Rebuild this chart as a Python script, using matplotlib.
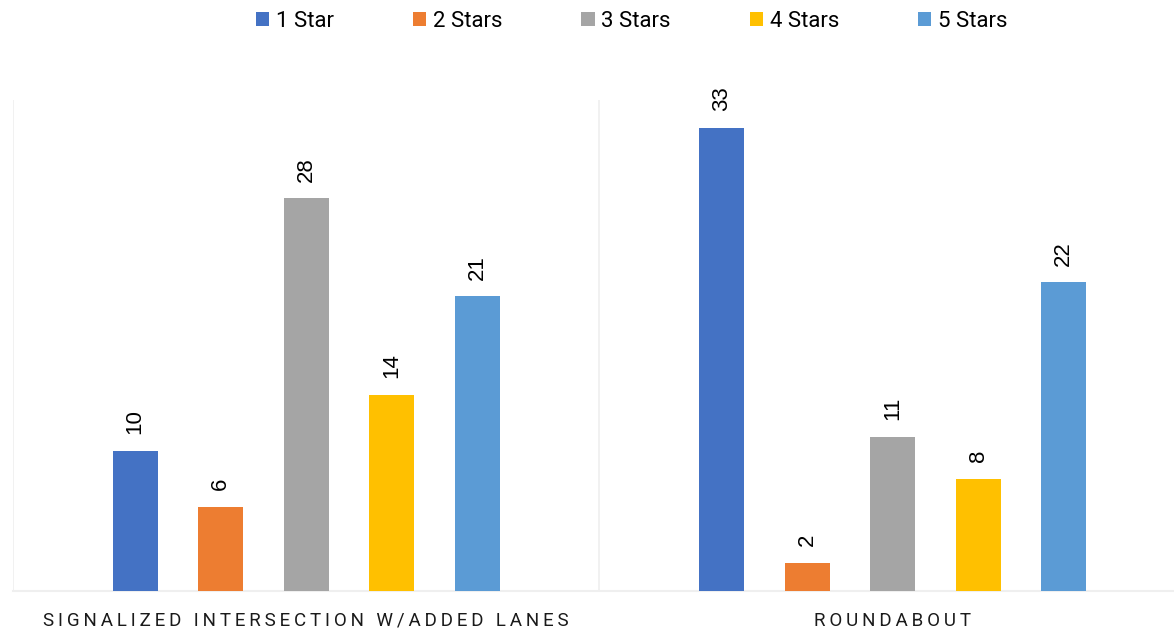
import numpy as np
import matplotlib.pyplot as plt

categories = ["SIGNALIZED INTERSECTION W/ADDED LANES", "ROUNDABOUT"]
series = ["1 Star", "2 Stars", "3 Stars", "4 Stars", "5 Stars"]
values = {
    "1 Star": [10, 33],
    "2 Stars": [6, 2],
    "3 Stars": [28, 11],
    "4 Stars": [14, 8],
    "5 Stars": [21, 22],
}
colors = ["#4472C4", "#ED7D31", "#A5A5A5", "#FFC000", "#5B9BD5"]

plt.rcParams["font.family"] = ["Roboto", "DejaVu Sans"]


def spaced(s):
    # widen letter spacing for the category captions
    return "\u2009".join(s)


fig = plt.figure(figsize=(11.74, 6.30), dpi=100)
ax = fig.add_axes([13 / 1174, 1 - 591 / 630, 1 - 13 / 1174, (591 - 100) / 630])

x = np.arange(len(categories))
width = 45 / 586.5
step = 85.5 / 586.5
for i, name in enumerate(series):
    pos = x + (i - 2) * step
    bars = ax.bar(pos, values[name], width=width, color=colors[i], label=name, zorder=3)
    for b, v in zip(bars, values[name]):
        ax.annotate(str(v), (b.get_x() + b.get_width() / 2, v),
                    xytext=(0, 12), textcoords="offset points",
                    ha="center", va="bottom", rotation=90,
                    fontsize=16, family=["Liberation Sans", "DejaVu Sans"], color="#000000")

ax.set_xlim(-0.5, -0.5 + (1174 - 13) / 586.5)
ax.set_ylim(0, 35)

for b in [-0.5, 0.5, 1.5]:
    ax.axvline(b, color="#EFEFEF", lw=1.2, zorder=1)
for s in ["top", "right", "left"]:
    ax.spines[s].set_visible(False)
ax.spines["bottom"].set_color("#EFEFEF")
ax.spines["bottom"].set_linewidth(1.5)

ax.set_yticks([])
ax.set_xticks(x)
ax.set_xticklabels([spaced(c) for c in categories], fontsize=13.5, color="#1a1a1a")
ax.tick_params(axis="x", length=0, pad=15)

fig.legend(loc="upper center", bbox_to_anchor=(0.538, 1.014), ncol=5, frameon=False,
           fontsize=16, handlelength=0.6, handleheight=0.6, handletextpad=0.3,
           columnspacing=3.55)

fig.savefig("out.png", dpi=100)
